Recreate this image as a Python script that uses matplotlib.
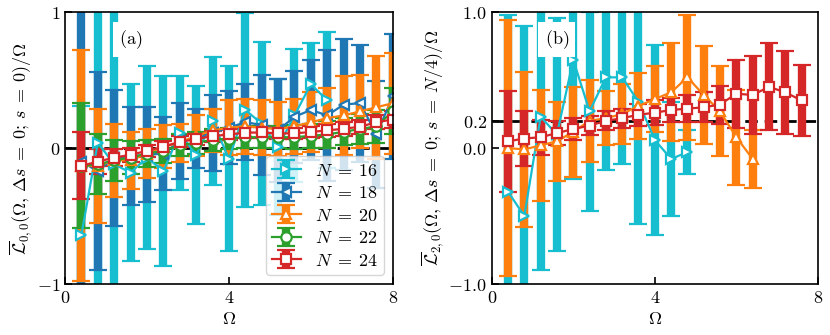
import numpy as np
import matplotlib
matplotlib.use("Agg")
import matplotlib.pyplot as plt

plt.rcParams["mathtext.fontset"] = "cm"
plt.rcParams["font.size"] = 11

# Omega grid
omega = [0.4, 0.8, 1.2, 1.6, 2.0, 2.4, 2.8, 3.2, 3.6, 4.0,
         4.4, 4.8, 5.2, 5.6, 6.0, 6.4, 6.8, 7.2, 7.6, 8.0]

# panel (a): L_{0,0}
a16 = [-0.64, 0.04, -0.12, -0.18, -0.07, -0.17, 0.11, -0.05, 0.20, -0.08,
       0.28, 0.18, 0.01, 0.24, 0.47, 0.35]
a16_err = [0.95, 1.4, 1.3, 0.65, 0.67, 0.70, 0.42, 0.51, 0.47, 0.68,
           0.71, 0.60, 0.50, 0.49, 0.30, 0.50]
a18 = [-0.10, -0.17, -0.07, -0.06, -0.05, -0.04, 0.05, 0.07, 0.11, 0.15,
       0.19, 0.17, 0.13, 0.23, 0.28, 0.24, 0.32, 0.33, 0.10, 0.38]
a18_err = [1.4, 0.73, 0.50, 0.36, 0.35, 0.27, 0.28, 0.22, 0.28, 0.27,
           0.28, 0.37, 0.38, 0.34, 0.37, 0.48, 0.48, 0.43, 0.39, 0.46]
a20 = [-0.13, -0.13, -0.09, -0.09, -0.04, 0.01, 0.04, 0.09, 0.13, 0.15,
       0.16, 0.15, 0.14, 0.16, 0.19, 0.22, 0.24, 0.27, 0.30, 0.33]
a20_err = [0.85, 0.42, 0.27, 0.21, 0.18, 0.16, 0.14, 0.15, 0.16, 0.20,
           0.20, 0.20, 0.20, 0.20, 0.22, 0.22, 0.29, 0.27, 0.38, 0.37]
a22 = [-0.13, -0.12, -0.09, -0.07, -0.04, -0.02, 0.02, 0.04, 0.06, 0.07,
       0.08, 0.08, 0.08, 0.08, 0.09, 0.10, 0.12, 0.14, 0.16, 0.27]
a22_err = [0.46, 0.22, 0.15, 0.12, 0.10, 0.09, 0.08, 0.08, 0.08, 0.08,
           0.08, 0.08, 0.08, 0.09, 0.09, 0.10, 0.10, 0.11, 0.12, 0.17]
a24 = [-0.13, -0.10, -0.07, -0.05, -0.02, 0.01, 0.046, 0.066, 0.088, 0.10,
       0.113, 0.115, 0.108, 0.108, 0.118, 0.13, 0.142, 0.157, 0.19, 0.21]
a24_err = [0.245, 0.09, 0.06, 0.05, 0.045, 0.04, 0.04, 0.04, 0.04, 0.04,
           0.04, 0.04, 0.04, 0.04, 0.045, 0.045, 0.05, 0.05, 0.05, 0.06]

# panel (b): L_{2,0}
b16 = [-0.32, -0.50, 0.23, 0.10, 0.65, 0.27, 0.52, 0.52, 0.34, 0.06, -0.08, -0.03]
b16_err = [1.3, 1.4, 1.13, 0.86, 0.88, 0.73, 0.68, 0.64, 0.90, 0.70, 0.42, 0.16]
b20 = [0.0, -0.01, 0.02, 0.05, 0.12, 0.20, 0.22, 0.25, 0.31, 0.36,
       0.41, 0.52, 0.39, 0.27, 0.08, -0.08]
b20_err = [0.94, 0.57, 0.41, 0.29, 0.33, 0.30, 0.20, 0.22, 0.24, 0.24,
           0.36, 0.46, 0.36, 0.33, 0.35, 0.21]
b24 = [0.05, 0.07, 0.08, 0.11, 0.14, 0.165, 0.20, 0.22, 0.245, 0.26,
       0.28, 0.29, 0.30, 0.32, 0.40, 0.39, 0.45, 0.41, 0.35]
b24_err = [0.37, 0.20, 0.13, 0.09, 0.08, 0.07, 0.07, 0.07, 0.08, 0.09,
           0.09, 0.10, 0.11, 0.14, 0.25, 0.29, 0.32, 0.305, 0.26]

colors = {16: "#17becf", 18: "#1f77b4", 20: "#ff7f0e", 22: "#2ca02c", 24: "#d62728"}
markers = {16: ">", 18: "<", 20: "^", 22: "o", 24: "s"}

fig = plt.figure(figsize=(8.3, 3.35), dpi=100)
ax1 = fig.add_axes([0.0783, 0.152, 0.395, 0.812])
ax2 = fig.add_axes([0.5924, 0.152, 0.393, 0.812])


def draw(ax, n, vals, errs):
    x = omega[:len(vals)]
    ax.errorbar(x, vals, yerr=errs, color=colors[n], marker=markers[n],
                markerfacecolor="white", markeredgecolor=colors[n],
                markersize=7.5, markeredgewidth=1.6, linewidth=1.6,
                elinewidth=6, capsize=6.5, capthick=2,
                label=rf"$N\;=\;{n}$")


ax1.axhline(0, color="black", linestyle="--", linewidth=2, dashes=(4.5, 2.5))
draw(ax1, 16, a16, a16_err)
draw(ax1, 18, a18, a18_err)
draw(ax1, 20, a20, a20_err)
draw(ax1, 22, a22, a22_err)
draw(ax1, 24, a24, a24_err)

ax2.axhline(0.2, color="black", linestyle="--", linewidth=2, dashes=(4.5, 2.5))
draw(ax2, 16, b16, b16_err)
draw(ax2, 20, b20, b20_err)
draw(ax2, 24, b24, b24_err)

for ax in (ax1, ax2):
    ax.set_xlim(0, 8)
    ax.set_ylim(-1, 1)
    ax.set_xticks([0, 4, 8], ["$0$", "$4$", "$8$"])
    ax.tick_params(direction="in", labelsize=13, length=5, width=1.2)
    ax.set_xlabel(r"$\Omega$", fontsize=13, labelpad=2)
    for s in ax.spines.values():
        s.set_linewidth(1.2)

ax1.set_yticks([-1, 0, 1], ["$-1$", "$0$", "$1$"])
ax2.set_yticks([-1, 0, 0.2, 1], ["$-1.0$", "$0.0$", "$0.2$", "$1.0$"])

ax1.set_ylabel(r"$\overline{\mathcal{L}}_{0,0}(\Omega,\,\Delta s\;=\;0;\,s\;=\;0)/\Omega$",
               fontsize=13, labelpad=2)
ax2.set_ylabel(r"$\overline{\mathcal{L}}_{2,0}(\Omega,\,\Delta s\;=\;0;\,s\;=\;N/4)/\Omega$",
               fontsize=13, labelpad=2)

box = dict(facecolor="white", edgecolor="none", pad=4.5)
ax1.text(0.2, 0.9, r"$\mathrm{(a)}$", transform=ax1.transAxes, fontsize=13,
         ha="center", va="center", bbox=box, zorder=5)
ax2.text(0.2, 0.9, r"$\mathrm{(b)}$", transform=ax2.transAxes, fontsize=13,
         ha="center", va="center", bbox=box, zorder=5)

ax1.legend(loc="lower right", fontsize=13, handlelength=1.6,
           labelspacing=0.25, borderpad=0.3, handletextpad=0.8)

fig.savefig("out.png", dpi=100)
